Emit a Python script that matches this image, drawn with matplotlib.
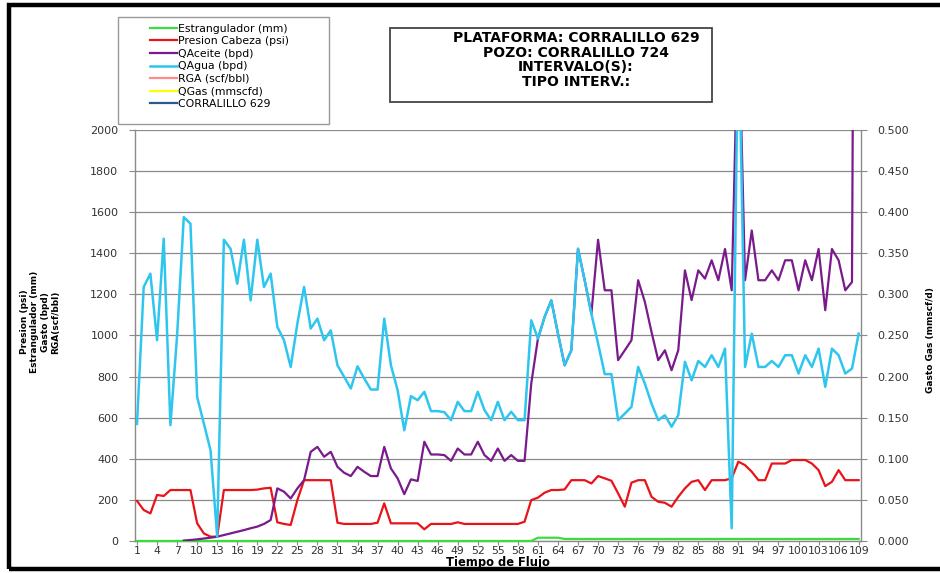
import numpy as np
import matplotlib
matplotlib.use("Agg")
import matplotlib.pyplot as plt
from matplotlib.patches import Rectangle

plt.rcParams["font.family"] = "DejaVu Sans"

# ── data ──────────────────────────────────────────────────────────────────────
tiempo = list(range(1, 110))

estrangulador = [0] * 60 + [16] * 4 + [10] * 45

presion = [
    195, 151, 134, 224, 219, 248, 248, 248, 248, 86,
    37, 21, 21, 248, 248, 248, 248, 248, 250, 256,
    259, 91, 83, 78, 199, 296, 296, 296, 296, 296,
    89, 83, 83, 83, 83, 83, 89, 183, 86, 86,
    86, 86, 86, 57, 83, 83, 83, 83, 91, 83,
    83, 83, 83, 83, 83, 83, 83, 83, 94, 199,
    211, 235, 248, 248, 251, 296, 296, 296, 280, 316,
    305, 293, 232, 167, 284, 296, 296, 215, 191, 186,
    167, 215, 256, 288, 296, 248, 296, 296, 296, 305,
    386, 369, 337, 296, 296, 377, 377, 377, 394, 394,
    394, 377, 345, 267, 288, 345, 296, 296, 296,
]

qaceite = [
    np.nan, np.nan, np.nan, np.nan, np.nan, np.nan, np.nan, 2, 5, 8,
    12, 16, 21, 29, 37, 45, 53, 62, 70, 83,
    102, 256, 240, 207, 256, 296, 434, 458, 410, 434,
    361, 332, 316, 361, 337, 316, 316, 458, 353, 305,
    228, 300, 292, 483, 421, 421, 418, 390, 450, 421,
    421, 483, 418, 390, 450, 390, 418, 390, 390, 766,
    985, 1090, 1171, 1009, 855, 928, 1422, 1268, 1106, 1466,
    1220, 1220, 880, 928, 977, 1269, 1164, 1017, 880, 928,
    831, 928, 1317, 1172, 1317, 1277, 1366, 1269, 1421, 1220,
    2600, 1269, 1511, 1269, 1269, 1317, 1269, 1366, 1366, 1220,
    1366, 1269, 1421, 1123, 1421, 1366, 1220, 1260, 8000,
]

qagua = [
    570, 1236, 1301, 977, 1471, 564, 1000, 1576, 1544, 701,
    572, 442, 21, 1466, 1422, 1252, 1466, 1171, 1466, 1236,
    1301, 1042, 977, 847, 1058, 1236, 1034, 1082, 977, 1025,
    855, 799, 742, 850, 791, 737, 737, 1082, 855, 734,
    539, 705, 685, 726, 632, 632, 627, 588, 677, 632,
    632, 726, 637, 588, 677, 588, 629, 588, 588, 1074,
    985, 1090, 1171, 1009, 855, 928, 1422, 1268, 1106, 961,
    812, 812, 588, 620, 653, 847, 766, 669, 588, 612,
    556, 612, 872, 782, 876, 847, 904, 847, 936, 62,
    2600, 847, 1009, 847, 847, 876, 847, 904, 904, 815,
    904, 847, 936, 750, 936, 904, 815, 839, 1009,
]

rga = []       # not visible in the chart
qgas = []      # not visible in the chart
corralillo = []

x_ticks = list(range(1, 110, 3))
y_ticks = list(range(0, 2001, 200))
y2_ticks = [i * 0.05 for i in range(11)]

# ── figure ────────────────────────────────────────────────────────────────────
W, H = 940, 573
fig = plt.figure(figsize=(W / 100, H / 100), dpi=100)
ax = fig.add_axes([135 / W, 1 - 541 / H, (861 - 135) / W, (541 - 130) / H])

GRAY = "#8a8a8a"
ax.plot(tiempo, estrangulador, color="#3ddc3d", lw=1.6, label="Estrangulador (mm)", clip_on=False, zorder=3)
ax.plot(tiempo, presion, color="#e8141a", lw=1.6, label="Presion Cabeza (psi)", zorder=3)
ax.plot(tiempo, qaceite, color="#7a1a8c", lw=1.6, label="QAceite (bpd)", zorder=3)
ax.plot(tiempo, qagua, color="#2ec6ef", lw=1.8, label="QAgua (bpd)", zorder=3)
ax.plot(tiempo[:len(rga)], rga, color="#ff8a8a", lw=1.6, label="RGA (scf/bbl)")

ax.set_xlim(0.7, 109.35)
ax.set_ylim(0, 2000)
ax.set_yticks(y_ticks)
ax.set_xticks(x_ticks)
ax.tick_params(axis="both", labelsize=8, colors="#333333", length=4, color=GRAY)
ax.tick_params(axis="y", pad=8)
ax.tick_params(axis="x", length=3, pad=0.5, labelsize=7.8)
ax.yaxis.grid(True, color=GRAY, lw=0.9)
ax.set_axisbelow(True)
for s in ["left", "bottom", "right", "top"]:
    ax.spines[s].set_color(GRAY)
    ax.spines[s].set_linewidth(1.0)
ax.spines["top"].set_visible(False)

ax2 = ax.twinx()
ax2.plot(tiempo[:len(qgas)], qgas, color="#ffff00", lw=1.6, label="QGas (mmscfd)")
ax2.plot(tiempo[:len(corralillo)], corralillo, color="#2a5a8c", lw=1.6, label="CORRALILLO 629")
ax2.set_ylim(0, 0.5)
ax2.set_yticks(y2_ticks)
ax2.set_yticklabels([f"{v:.3f}" for v in y2_ticks])
ax2.tick_params(axis="y", labelsize=8, colors="#333333", length=4, color=GRAY, pad=8)
for s in ax2.spines.values():
    s.set_visible(False)

fig.text(498 / W, 1 - 562.5 / H, "Tiempo de Flujo", ha="center", va="center",
         fontsize=8.3, fontweight="bold")
fig.text(40 / W, 1 - 322 / H, "Presion (psi)\nEstrangulador (mm)\nGasto (bpd)\nRGA(scf/bbl)",
         rotation=90, ha="center", va="center", fontsize=6.5, fontweight="bold",
         multialignment="center", linespacing=1.2)
fig.text(930 / W, 1 - 340 / H, "Gasto Gas (mmscf/d)", rotation=90, ha="center", va="center",
         fontsize=6.5, fontweight="bold")

# legend in its own box
handles = ax.get_lines()[:5] + ax2.get_lines()
fig.patches.append(Rectangle((118 / W, 1 - 124 / H), (329 - 118) / W, (124 - 17) / H,
                             transform=fig.transFigure, fill=True, facecolor="white",
                             edgecolor="#999999", lw=1.0, zorder=5))
leg = fig.legend(handles=handles, labels=[h.get_label() for h in handles],
                 loc="upper left", bbox_to_anchor=(142 / W, 1 - 16 / H),
                 frameon=False, fontsize=7.8, handlelength=2.5, handletextpad=0.15,
                 labelspacing=0.24, borderpad=0.2)
leg.set_zorder(6)

# header box
fig.patches.append(Rectangle((390 / W, 1 - 102 / H), (712 - 390) / W, (102 - 28) / H,
                             transform=fig.transFigure, fill=False, edgecolor="#444444", lw=1.3))
header = ["PLATAFORMA: CORRALILLO 629", "POZO: CORRALILLO 724", "INTERVALO(S):", "TIPO INTERV.:"]
for k, line in enumerate(header):
    fig.text(576 / W, 1 - (38 + k * 14.7) / H, line, ha="center", va="center",
             fontsize=10, fontweight="bold")

# outer black frame
fig.patches.append(Rectangle((9 / W, 1 - 569 / H), 1.0, (569 - 5) / H,
                             transform=fig.transFigure, fill=False, edgecolor="black", lw=3.2))

fig.savefig("out.png", dpi=100, facecolor="white")
